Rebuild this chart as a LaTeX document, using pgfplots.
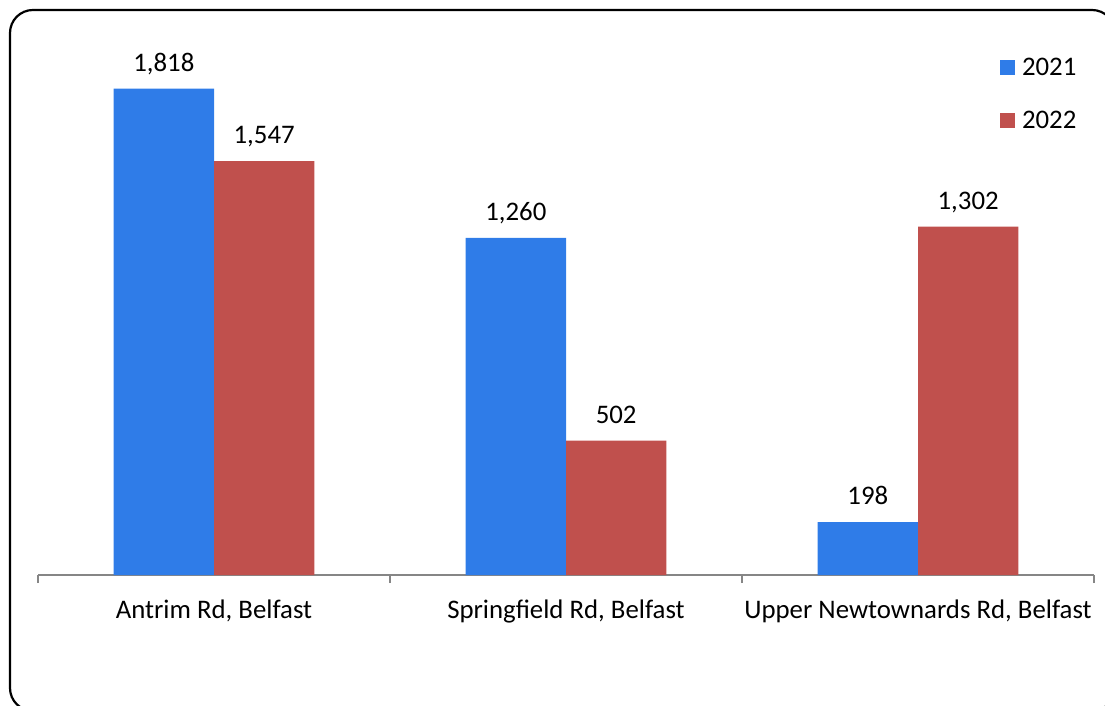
\documentclass[border=0pt]{standalone}
\usepackage{fontspec}
\setmainfont{Carlito}
\usepackage{pgfplots}
\pgfplotsset{compat=1.18}
\definecolor{barblue}{HTML}{2F7CE8}
\definecolor{barred}{HTML}{C0504D}
\definecolor{axgray}{HTML}{868686}

\begin{document}
\begin{tikzpicture}
\path[use as bounding box] (0bp,0bp) rectangle (552.5bp,353bp);
\begin{scope}
\clip (0bp,0bp) rectangle (552.5bp,353bp);
\draw[line width=1.1bp, rounded corners=11.5bp] (5bp,-2.5bp) rectangle (557.5bp,348bp);
\end{scope}

\begin{axis}[
    at={(19bp,65.5bp)}, anchor=south west,
    scale only axis,
    width=528bp, height=267.5bp,
    ybar,
    xmin=-0.5, xmax=2.5,
    ymin=0, ymax=2000,
    enlargelimits=false,
    axis x line*=bottom,
    axis y line=none,
    axis line style={axgray, line width=0.9bp},
    xtick={0,1,2},
    xticklabels={{Antrim Rd, Belfast}, {Springfield Rd, Belfast}, {Upper Newtownards Rd, Belfast}},
    major x tick style={draw=none},
    minor xtick={-0.5,0.5,1.5,2.5},
    minor tick length=4bp,
    minor x tick style={axgray, line width=0.9bp},
    tick align=outside,
    ytick=\empty,
    xticklabel style={font=\fontsize{13.4bp}{16bp}\selectfont, anchor=base, yshift=-17.5bp, inner sep=0pt},
    bar width=0.285,
    nodes near coords,
    nodes near coords style={font=\fontsize{13.4bp}{16bp}\selectfont, text=black, anchor=south,
        inner sep=0pt, text depth=0pt, yshift=8.5bp,
        /pgf/number format/1000 sep={,}, /pgf/number format/assume math mode=true},
    legend style={draw=none, fill=none, inner sep=0pt, outer sep=0pt,
        at={(0.911,0.968)}, anchor=north west,
        font=\fontsize{13.4bp}{16bp}\selectfont,
        row sep=17.5bp,
        nodes={inner sep=0pt, text height=9bp, text depth=0pt},
        /tikz/every odd column/.append style={column sep=3.5bp}},
    legend image code/.code={\fill[#1] (0bp,-4.5bp) rectangle (7.5bp,3bp);},
    clip=false,
]
\addplot[fill=barblue, draw=none, bar shift=-0.1425] coordinates {(0,1818) (1,1260) (2,198)};
\addplot[fill=barred, draw=none, bar shift=0.1425] coordinates {(0,1547) (1,502) (2,1302)};
\legend{2021,2022}
\end{axis}
\end{tikzpicture}
\end{document}
